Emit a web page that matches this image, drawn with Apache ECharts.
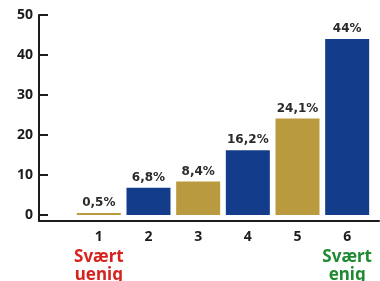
<!DOCTYPE html>
<html>
<head>
<meta charset="utf-8">
<title>Svært uenig - svært enig</title>
<script src="https://cdn.jsdelivr.net/npm/echarts@6/dist/echarts.min.js"></script>
<style>
  * { margin: 0; padding: 0; }
  body { background: #fff; }
</style>
</head>
<body>
<div id="chart" style="width: 380px; height: 281px;"></div>
<script>
  // data
  var categories = ['1', '2', '3', '4', '5', '6'];
  var values = [0.5, 6.8, 8.4, 16.2, 24.1, 44];
  var yTicks = [0, 10, 20, 30, 40, 50];

  var navy = '#133c8a';
  var gold = '#b99a3e';
  var barColors = [gold, navy, gold, navy, gold, navy];

  var chart = echarts.init(document.getElementById('chart'));

  var option = {
    animation: false,
    backgroundColor: '#fff',
    textStyle: { fontFamily: 'DejaVu Sans' },
    grid: [
      // bars
      { left: 74, width: 298, top: 15, bottom: 66, outerBoundsMode: 'none' },
      // only the axis frame (line runs from the y axis to the edge)
      { left: 39, right: 1, top: 15, bottom: 60, outerBoundsMode: 'none' }
    ],
    xAxis: [{
      type: 'category',
      gridIndex: 0,
      data: categories,
      axisLine: { show: false },
      axisTick: { show: false },
      axisLabel: {
        margin: 12,
        interval: 0,
        formatter: function (v) {
          if (v === '1') return '{n|1}\n{r|Svært}\n{r|uenig}';
          if (v === '6') return '{n|6}\n{g|Svært}\n{g|enig}';
          return '{n|' + v + '}';
        },
        rich: {
          n: { fontSize: 14, fontWeight: 'bold', color: '#1c1c1c', lineHeight: 21, fontFamily: 'Noto Sans' },
          r: { fontSize: 17, fontWeight: 'bold', color: '#d7231f', lineHeight: 18, fontFamily: 'Noto Sans' },
          g: { fontSize: 17, fontWeight: 'bold', color: '#1f8a32', lineHeight: 18, fontFamily: 'Noto Sans' }
        }
      }
    }, {
      type: 'value',
      gridIndex: 1,
      min: 0,
      max: 1,
      axisLine: { show: true, lineStyle: { color: '#1c1c1c', width: 2 } },
      axisTick: { show: false },
      axisLabel: { show: false },
      splitLine: { show: false }
    }],
    yAxis: [{
      type: 'value',
      gridIndex: 0,
      min: yTicks[0],
      max: yTicks[yTicks.length - 1],
      interval: 10,
      offset: 35,
      axisLine: { show: false },
      axisTick: {
        show: true,
        inside: true,
        length: 9,
        lineStyle: { color: '#1c1c1c', width: 2 }
      },
      axisLabel: {
        margin: 6,
        fontSize: 14,
        fontWeight: 'bold',
        color: '#1c1c1c',
        fontFamily: 'Noto Sans'
      },
      splitLine: { show: false }
    }, {
      type: 'value',
      gridIndex: 1,
      min: 0,
      max: 1,
      axisLine: { show: true, lineStyle: { color: '#1c1c1c', width: 2 } },
      axisTick: { show: false },
      axisLabel: { show: false },
      splitLine: { show: false }
    }],
    series: [{
      type: 'bar',
      xAxisIndex: 0,
      yAxisIndex: 0,
      barWidth: 44,
      data: values.map(function (v, i) {
        return { value: v, itemStyle: { color: barColors[i] } };
      }),
      label: {
        show: true,
        position: 'top',
        distance: 4,
        fontSize: 12,
        fontWeight: 'bold',
        color: '#2a2a2a',
        formatter: function (p) {
          return String(p.value).replace('.', ',') + '%';
        }
      }
    }]
  };

  chart.setOption(option);
</script>
</body>
</html>
